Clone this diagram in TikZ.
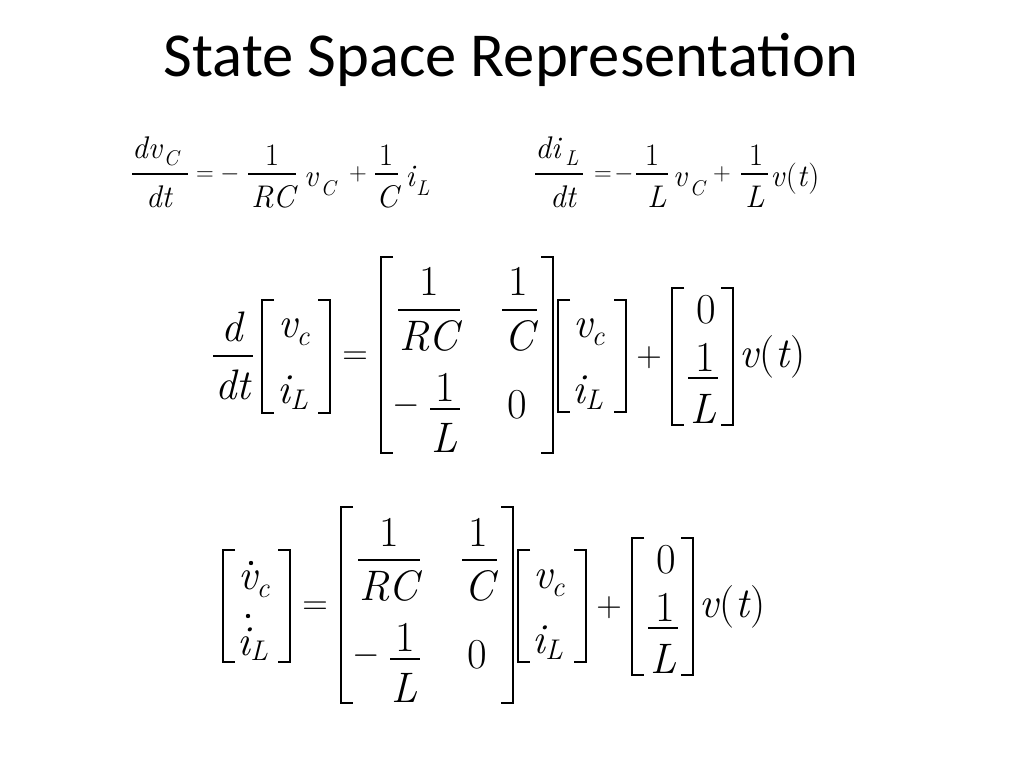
\documentclass[tikz,border=0pt]{standalone}
\usepackage{fontspec}
\newfontfamily\ttl{Carlito}
\usepackage{tikz}

% left and right brackets: x, top, bottom
\newcommand{\lbrk}[3]{\draw[brk] (#1+12,#2) -| (#1,#3) -- ++(12,0);}
\newcommand{\rbrk}[3]{\draw[brk] (#1-12,#2) -| (#1,#3) -- ++(-12,0);}

% right hand side of the matrix equation, #1 is a name prefix
\newcommand{\rhs}[1]{%
        \node[op] (#1eq) at (355, 364) {$=$};
        \lbrk{381}{257}{453}
        \rbrk{553}{257}{453}
        \node[eq] (#1na) at (429, 296) {1};
        \draw[fbar] (398, 310) -- (460, 310);
        \node[eqi] (#1da) at (429, 350) {RC};
        \node[eq] (#1nb) at (518, 296) {1};
        \draw[fbar] (502, 310) -- (537, 310);
        \node[eqi] (#1db) at (519, 350) {C};
        \node[op] (#1mi) at (406, 414) {$-$};
        \node[eq] (#1nc) at (445, 401) {1};
        \draw[fbar] (430, 409) -- (460, 409);
        \node[eqi] (#1dc) at (445, 452) {L};
        \node[eq] (#1z) at (517, 418) {0};
        \lbrk{558}{300}{412}
        \rbrk{626}{300}{412}
        \node[eqi] (#1v) at (583, 338) {v};
        \node[eqs] (#1vc) at (598, 346) {c};
        \node[eqi] (#1i) at (579, 403) {i};
        \node[eqs] (#1iL) at (594, 409) {L};
        \node[op] (#1pl) at (649, 366) {$+$};
        \lbrk{672}{288}{425}
        \rbrk{733}{288}{425}
        \node[eq] (#1b0) at (706, 323) {0};
        \node[eq] (#1b1) at (705, 371) {1};
        \draw[fbar] (688, 378) -- (718, 378);
        \node[eqi] (#1bL) at (704, 423) {L};
        \node[eq, anchor=base west] (#1vt) at (739, 367) {{\itshape v}\kern1pt({\itshape t\/})};
}

\begin{document}
\begin{tikzpicture}[x=0.703125pt, y=-0.703125pt,
        eq/.style={inner sep=0pt, anchor=base, font=\fontsize{30}{36}\selectfont},
        eqi/.style={eq, font=\fontsize{30}{36}\selectfont\itshape},
        eqs/.style={inner sep=0pt, anchor=base, font=\fontsize{20}{24}\selectfont\itshape},
        op/.style={inner sep=0pt, anchor=base, font=\fontsize{23}{26}\selectfont},
        sm/.style={inner sep=0pt, anchor=base, font=\fontsize{22}{26}\selectfont},
        smi/.style={sm, font=\fontsize{22}{26}\selectfont\itshape},
        sms/.style={inner sep=0pt, anchor=base, font=\fontsize{15}{18}\selectfont\itshape},
        smop/.style={inner sep=0pt, anchor=base, font=\fontsize{16}{18}\selectfont},
        fbar/.style={line width=1.4pt},
        sbar/.style={line width=1pt},
        brk/.style={line width=1.4pt}]
        \useasboundingbox (0, 0) rectangle (1024, 768);

        \node[inner sep=0pt, anchor=base, font=\ttl\fontsize{44}{52}\selectfont] (title) at (511, 77) {State Space Representation};

        % first equation
        \node[smi] (dv) at (147, 159) {dv};
        \node[sms] (dvC) at (171, 166) {C};
        \draw[sbar] (132, 174) -- (188, 174);
        \node[smi] (dt1) at (159, 208) {dt};
        \node[smop] (eq1) at (205, 181) {$=$};
        \node[smop] (mi1) at (230, 181) {$-$};
        \node[sm] (n1) at (272, 166) {1};
        \draw[sbar] (248, 174) -- (296, 174);
        \node[smi] (rc1) at (273, 208) {RC};
        \node[smi] (v1) at (311, 187) {v};
        \node[sms] (v1C) at (328, 196) {C};
        \node[smop] (pl1) at (358, 181) {$+$};
        \node[sm] (n2) at (386, 166) {1};
        \draw[sbar] (375, 174) -- (398, 174);
        \node[smi] (c1) at (387, 208) {C};
        \node[smi] (i1) at (410, 187) {i};
        \node[sms] (i1L) at (423, 196) {L};

        % second equation
        \node[smi] (di) at (548, 159) {di};
        \node[sms] (diL) at (572, 166) {L};
        \draw[sbar] (535, 174) -- (583, 174);
        \node[smi] (dt2) at (563, 208) {dt};
        \node[smop] (eq2) at (603, 181) {$=$};
        \node[smop] (mi2) at (624, 181) {$-$};
        \node[sm] (n3) at (652, 166) {1};
        \draw[sbar] (636, 174) -- (668, 174);
        \node[smi] (l1) at (657, 208) {L};
        \node[smi] (v2) at (680, 187) {v};
        \node[sms] (v2C) at (697, 196) {C};
        \node[smop] (pl2) at (722, 181) {$+$};
        \node[sm] (n4) at (756, 166) {1};
        \draw[sbar] (741, 174) -- (768, 174);
        \node[smi] (l2) at (755, 208) {L};
        \node[sm, anchor=base west] (vt1) at (770, 187) {{\itshape v}\kern1pt({\itshape t\/})};

        % matrix form
        \node[eqi] (d) at (232, 342) {d};
        \draw[fbar] (213, 356) -- (253, 356);
        \node[eqi] (dt3) at (233, 399) {dt};
        \lbrk{262}{300}{413}
        \rbrk{330}{300}{413}
        \node[eqi] (v3) at (288, 338) {v};
        \node[eqs] (v3c) at (303, 346) {c};
        \node[eqi] (i3) at (284, 403) {i};
        \node[eqs] (i3L) at (299, 409) {L};
        \rhs{m}

        % state form
        \lbrk{223}{550}{662}
        \rbrk{290}{550}{662}
        \node[eqi] (v4) at (248, 589) {v};
        \fill (251, 563) circle (2.2);
        \node[eqs] (v4c) at (263, 597) {c};
        \node[eqi] (i4) at (244, 655) {i};
        \fill (248, 616) circle (2.2);
        \node[eqs] (i4L) at (259, 660) {L};
        \begin{scope}[shift={(-40, 250)}]
                \rhs{s}
        \end{scope}
\end{tikzpicture}
\end{document}
